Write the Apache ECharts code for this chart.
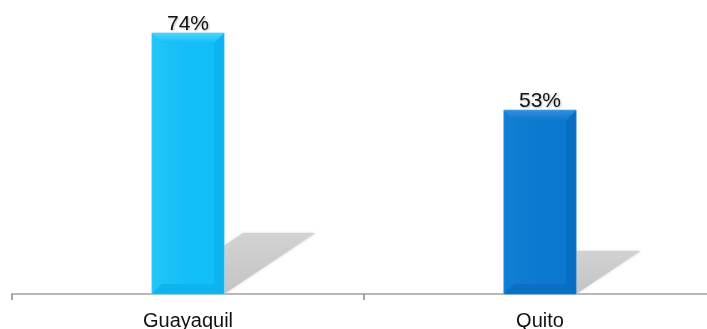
<!DOCTYPE html>
<html>
<head>
<meta charset="utf-8">
<script src="https://cdn.jsdelivr.net/npm/echarts@6/dist/echarts.min.js"></script>
<style>
  html, body { margin: 0; padding: 0; background: #fff; }
  #chart { width: 707px; height: 329px; }
</style>
</head>
<body>
<div id="chart"></div>
<script>
// Share by city (percent)
const categories = ['Guayaquil', 'Quito'];
const shares = [74, 53];

// Value axis range (hidden axis)
const Y_MIN = 3;
const Y_MAX = 74;

// Per-bar palette: main, top bevel, left bevel, right bevel, bottom bevel, outline
const palettes = [
  { main: '#12BEF7', top: '#4ED3FB', left: '#22C4F8', right: '#0BB0EC', bottom: '#0DB2EC', edge: '#7FDDFB' },
  { main: '#0B79CF', top: '#3590DC', left: '#117FD3', right: '#086CC0', bottom: '#0A6FC3', edge: '#5AA6E4' }
];

const chart = echarts.init(document.getElementById('chart'));

function renderBar(params, api) {
  const i = params.dataIndex;
  const pal = palettes[i % palettes.length];
  const topPt = api.coord([api.value(0), api.value(1)]);
  const basePt = api.coord([api.value(0), Y_MIN]);
  const bw = api.size([1, 0])[0] * 0.205;
  const L = topPt[0] - bw / 2, R = topPt[0] + bw / 2;
  const T = topPt[1], B = basePt[1];
  const h = B - T;
  const b = 10;
  const sx = 0.35 * h, sy = 0.234 * h;

  return {
    type: 'group',
    children: [
      // cast shadow on the floor, behind the bar
      {
        type: 'polygon',
        shape: { points: [[L, B], [R, B], [R + sx, B - sy], [L + sx, B - sy]] },
        style: {
          fill: new echarts.graphic.LinearGradient(0, 1, 0, 0, [
            { offset: 0, color: '#c4c4c4' },
            { offset: 1, color: '#d2d2d2' }
          ]),
          shadowBlur: 3,
          shadowColor: 'rgba(200,200,200,0.8)'
        },
        z2: 0
      },
      {
        type: 'rect',
        shape: { x: L, y: T, width: bw, height: h },
        style: {
          fill: new echarts.graphic.LinearGradient(0, 0, 1, 0, [
            { offset: 0, color: pal.left },
            { offset: 0.5, color: pal.main },
            { offset: 1, color: pal.main }
          ]),
          stroke: pal.edge,
          lineWidth: 1
        },
        z2: 1
      },
      {
        type: 'polygon',
        shape: { points: [[L, T], [L + b, T + b], [L + b, B - b], [L, B]] },
        style: { fill: pal.left, opacity: 0.7 },
        z2: 2
      },
      {
        type: 'polygon',
        shape: { points: [[R, T], [R, B], [R - b, B - b], [R - b, T + b]] },
        style: { fill: pal.right, opacity: 0.8 },
        z2: 2
      },
      {
        type: 'polygon',
        shape: { points: [[L, B], [R, B], [R - b, B - b], [L + b, B - b]] },
        style: { fill: pal.bottom, opacity: 0.9 },
        z2: 2
      },
      {
        type: 'polygon',
        shape: { points: [[L, T], [R, T], [R - b, T + b], [L + b, T + b]] },
        style: {
          fill: new echarts.graphic.LinearGradient(0, 0, 0, 1, [
            { offset: 0, color: pal.top },
            { offset: 1, color: pal.main }
          ])
        },
        z2: 2
      },
      {
        type: 'text',
        style: {
          x: topPt[0],
          y: T + 2,
          text: api.value(1) + '%',
          font: '21px "Liberation Sans", Arial, sans-serif',
          fill: '#111',
          align: 'center',
          verticalAlign: 'bottom',
          textShadowColor: 'rgba(0,0,0,0.25)',
          textShadowBlur: 2,
          textShadowOffsetX: 1,
          textShadowOffsetY: 1
        },
        z2: 3
      }
    ]
  };
}

chart.setOption({
  animation: false,
  backgroundColor: '#ffffff',
  grid: { left: 12, width: 704, top: 33, height: 261, containLabel: false, outerBoundsMode: 'none' },
  xAxis: {
    type: 'category',
    data: categories,
    boundaryGap: true,
    axisLine: { show: true, lineStyle: { color: '#b8b8b8', width: 2 } },
    axisTick: { show: true, alignWithLabel: false, length: 6, lineStyle: { color: '#8a8a8a', width: 1.5 } },
    axisLabel: {
      color: '#111',
      fontSize: 20,
      fontFamily: '"Liberation Sans", Arial, sans-serif',
      margin: 17
    },
    splitLine: { show: false }
  },
  yAxis: {
    type: 'value',
    min: Y_MIN,
    max: Y_MAX,
    show: false,
    splitLine: { show: false }
  },
  series: [{
    type: 'custom',
    renderItem: renderBar,
    data: shares.map((v, i) => [i, v]),
    encode: { x: 0, y: 1 },
    clip: false,
    z: 3
  }]
});
</script>
</body>
</html>
